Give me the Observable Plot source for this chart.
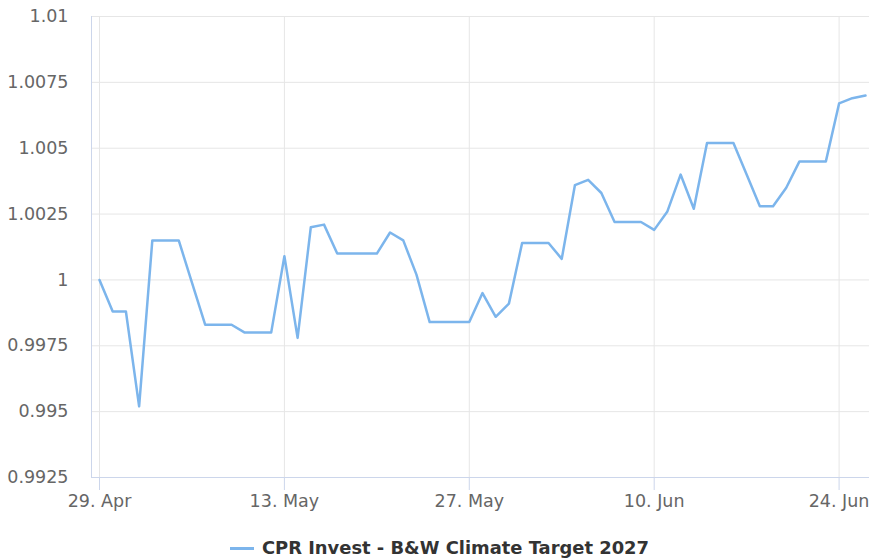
<!DOCTYPE html>
<html>
<head>
<meta charset="utf-8">
<script src="https://cdn.jsdelivr.net/npm/d3@7"></script>
<script src="https://cdn.jsdelivr.net/npm/@observablehq/plot@0.6"></script>
<style>
  body { margin: 0; background: #fff; font-family: "DejaVu Sans", sans-serif; }
  #legend { display: flex; justify-content: center; align-items: center; padding-top: 18px; padding-left: 10px; line-height: 20px; }
  #legend .sym { display: inline-block; width: 24px; height: 3px; background: #7cb5ec; margin-right: 8px; }
  #legend .lab { font-weight: bold; font-size: 17.9px; color: #333; }
</style>
</head>
<body>
<div id="chart"></div>
<div id="legend"><span class="sym"></span><span class="lab" id="seriesName"></span></div>
<script>
const seriesName = "CPR Invest - B&W Climate Target 2027";
const dates = [
  "2024-04-29","2024-04-30","2024-05-01","2024-05-02","2024-05-03","2024-05-04","2024-05-05",
  "2024-05-06","2024-05-07","2024-05-08","2024-05-09","2024-05-10","2024-05-11","2024-05-12",
  "2024-05-13","2024-05-14","2024-05-15","2024-05-16","2024-05-17","2024-05-18","2024-05-19",
  "2024-05-20","2024-05-21","2024-05-22","2024-05-23","2024-05-24","2024-05-25","2024-05-26",
  "2024-05-27","2024-05-28","2024-05-29","2024-05-30","2024-05-31","2024-06-01","2024-06-02",
  "2024-06-03","2024-06-04","2024-06-05","2024-06-06","2024-06-07","2024-06-08","2024-06-09",
  "2024-06-10","2024-06-11","2024-06-12","2024-06-13","2024-06-14","2024-06-15","2024-06-16",
  "2024-06-17","2024-06-18","2024-06-19","2024-06-20","2024-06-21","2024-06-22","2024-06-23",
  "2024-06-24","2024-06-25","2024-06-26"
];
const values = [
  1.0000, 0.9988, 0.9988, 0.9952, 1.0015, 1.0015, 1.0015,
  0.9999, 0.9983, 0.9983, 0.9983, 0.9980, 0.9980, 0.9980,
  1.0009, 0.9978, 1.0020, 1.0021, 1.0010, 1.0010, 1.0010,
  1.0010, 1.0018, 1.0015, 1.0002, 0.9984, 0.9984, 0.9984,
  0.9984, 0.9995, 0.9986, 0.9991, 1.0014, 1.0014, 1.0014,
  1.0008, 1.0036, 1.0038, 1.0033, 1.0022, 1.0022, 1.0022,
  1.0019, 1.0026, 1.0040, 1.0027, 1.0052, 1.0052, 1.0052,
  1.0040, 1.0028, 1.0028, 1.0035, 1.0045, 1.0045, 1.0045,
  1.0067, 1.0069, 1.0070
];
const yTicks = [0.9925, 0.995, 0.9975, 1, 1.0025, 1.005, 1.0075, 1.01];
const yTickLabels = ["0.9925", "0.995", "0.9975", "1", "1.0025", "1.005", "1.0075", "1.01"];
const xTickDates = ["2024-04-29", "2024-05-13", "2024-05-27", "2024-06-10", "2024-06-24"];
const xTickLabels = ["29. Apr", "13. May", "27. May", "10. Jun", "24. Jun"];

const data = dates.map((d, i) => ({date: new Date(d), value: values[i]}));
const xTicks = xTickDates.map(d => new Date(d));

document.getElementById("seriesName").textContent = seriesName;

const chart = Plot.plot({
  width: 869,
  height: 520,
  marginLeft: 91,
  marginRight: 0,
  marginTop: 16,
  marginBottom: 43,
  style: {fontFamily: "DejaVu Sans", fontSize: "17.5px", color: "#666", background: "white", overflow: "visible"},
  x: {type: "utc", domain: [data[0].date, data[data.length - 1].date], range: [99, 865]},
  y: {domain: [0.9925, 1.01]},
  marks: [
    Plot.gridY(yTicks, {stroke: "#e6e6e6", strokeOpacity: 1}),
    Plot.gridX(xTicks, {stroke: "#e6e6e6", strokeOpacity: 1}),
    Plot.frame({anchor: "left", stroke: "#ccd6eb", strokeOpacity: 1}),
    Plot.frame({anchor: "bottom", stroke: "#ccd6eb", strokeOpacity: 1}),
    Plot.axisY(yTicks, {tickSize: 0, tickPadding: 23, label: null, fill: "#666",
      tickFormat: d => yTickLabels[yTicks.indexOf(d)]}),
    Plot.axisX(xTicks, {tickSize: 13, tickPadding: 4, label: null, stroke: "#ccd6eb", strokeOpacity: 1, fill: "#666",
      tickFormat: d => xTickLabels[xTicks.findIndex(t => +t === +d)]}),
    Plot.line(data, {x: "date", y: "value", stroke: "#7cb5ec", strokeWidth: 2.5})
  ]
});
document.getElementById("chart").appendChild(chart);
</script>
</body>
</html>
